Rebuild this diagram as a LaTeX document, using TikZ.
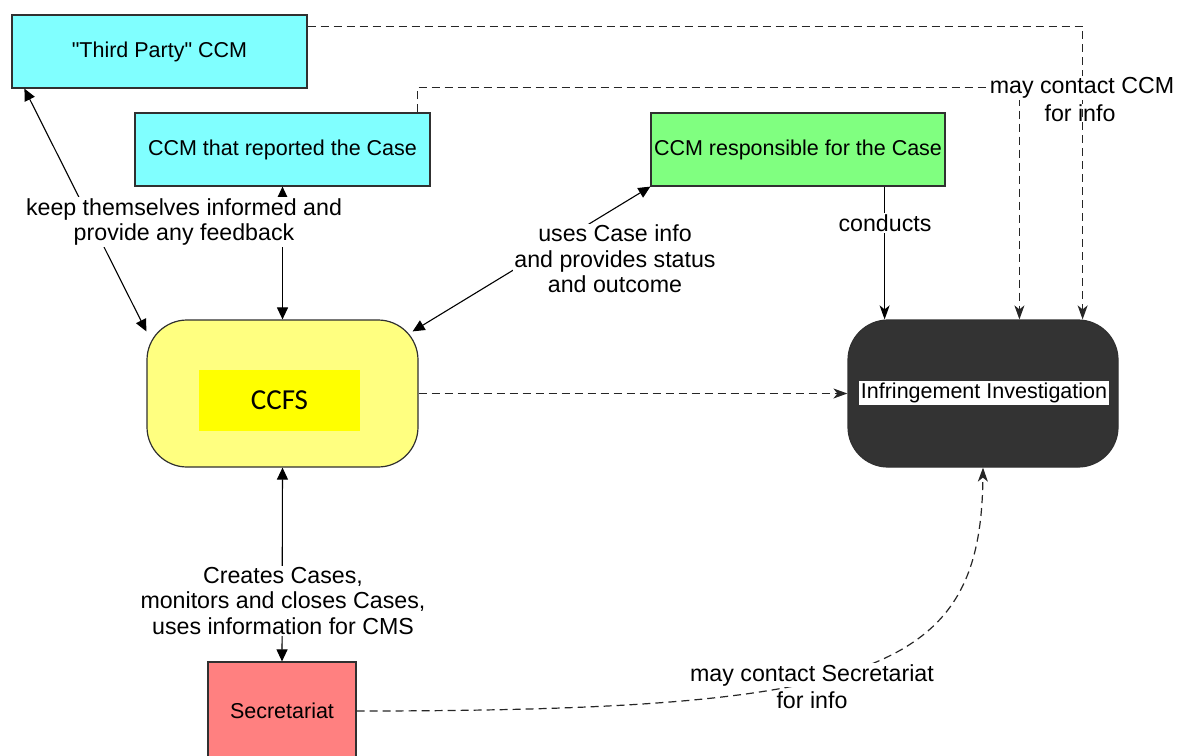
\documentclass[tikz,border=0pt]{standalone}
\usepackage{fontspec}
\setmainfont{Liberation Sans}
\newfontfamily\arialplain{Liberation Sans}
\newfontfamily\calib{Carlito}
\usetikzlibrary{arrows.meta,calc}
\definecolor{cyanbox}{HTML}{80FFFF}
\definecolor{greenbox}{HTML}{80FF80}
\definecolor{ylight}{HTML}{FFFF80}
\definecolor{ystrong}{HTML}{FFFF00}
\definecolor{redbox}{HTML}{FF8080}
\definecolor{darkbox}{HTML}{333333}
\definecolor{edge}{HTML}{303030}
\begin{document}
\begin{tikzpicture}[x=1pt,y=-1pt,
  box/.style={draw=edge,line width=1.2pt,inner sep=0pt,font=\fontsize{21.5}{25}\selectfont},
  rbox/.style={box,rounded corners=40pt},
  lbl/.style={fill=white,inner sep=1pt,align=center,font=\fontsize{23.2}{25.5}\selectfont},
  solid2/.style={line width=1.1pt,{Triangle[length=12pt,width=11pt]}-{Triangle[length=12pt,width=11pt]}},
  dsh/.style={line width=1.2pt,black!85,dash pattern=on 8pt off 5pt,-{Stealth[length=14pt,width=10pt,inset=4pt]}},
  cond/.style={line width=1.1pt,-{Stealth[length=14pt,width=10pt,inset=4pt]}}]
\useasboundingbox (0,0) rectangle (1177,755);
% nodes
\node[box,fill=cyanbox,minimum width=295pt,minimum height=73pt] (tp) at (159.5,51.5) {\arialplain "Third Party" CCM};
\node[box,fill=cyanbox,minimum width=295pt,minimum height=73pt] (rep) at (282.5,149.5) {CCM that reported the Case};
\node[box,fill=greenbox,minimum width=294pt,minimum height=73pt] (resp) at (798,149.5) {CCM responsible for the Case};
\node[rbox,fill=ylight,minimum width=271pt,minimum height=147pt] (ccfs) at (282.5,393.5) {};
\node[fill=ystrong,minimum width=161pt,minimum height=61pt,inner sep=0pt,font=\calib\fontsize{29}{32}\selectfont] (ccfsin) at (279.5,400.5) {CCFS};
\node[rbox,fill=darkbox,minimum width=270pt,minimum height=147pt] (inv) at (983,393.5) {};
\node[fill=white,inner sep=1.5pt,font=\fontsize{21.5}{25}\selectfont] (invlbl) at (984,393) {Infringement Investigation};
\node[box,fill=redbox,minimum width=148pt,minimum height=98pt] (sec) at (282,711) {Secretariat};
% helper coordinates on borders
\coordinate (tpS) at ($(tp.south west)+(13,0)$);
\coordinate (ccfsNW) at ($(ccfs.north west)+(0,12)$);
\coordinate (ccfsNE) at ($(ccfs.north east)+(-6,12)$);
\coordinate (tpE) at ($(tp.north east)+(0,12)$);
\coordinate (repT) at ($(rep.north east)+(-13,0)$);
\coordinate (condS) at ($(resp.south east)+(-61,0)$);
\coordinate (invA) at ($(inv.north west)+(172,0)$);
\coordinate (invB) at ($(inv.north east)+(-36,0)$);
% solid connectors
\draw[solid2] (tpS) -- (ccfsNW);
\draw[solid2] (rep.south) -- (ccfs.north);
\draw[solid2] (resp.south west) -- (ccfsNE);
\draw[solid2] (ccfs.south) -- (sec.north);
\draw[cond] (condS) -- (condS |- inv.north);
% dashed connectors
\draw[dsh] (ccfs.east) -- (inv.west);
\draw[dsh] (repT) -- ++(0,-25) -| (invA);
\draw[dsh] (tpE) -| (invB);
\draw[dsh] (sec.east) .. controls (880,711) and (981,670) .. (inv.south);
% labels
\node[lbl] (l1) at (184,222) {keep themselves informed and\\provide any feedback};
\node[lbl] (l2) at (615,259) {uses Case info\\and provides status\\and outcome};
\node[lbl] (l3) at (885,223) {conducts};
\node[lbl] (l4) at (283,601) {Creates Cases,\\monitors and closes Cases,\\uses information for CMS};
\node[lbl] (l5a) at (1082,88) {may contact CCM};
\node[lbl,fill=none] (l5b) at (1080,113) {for info};
\node[lbl] (l6a) at (812,675) {may contact Secretariat};
\node[lbl] (l6b) at (812,700) {for info};
\end{tikzpicture}
\end{document}
